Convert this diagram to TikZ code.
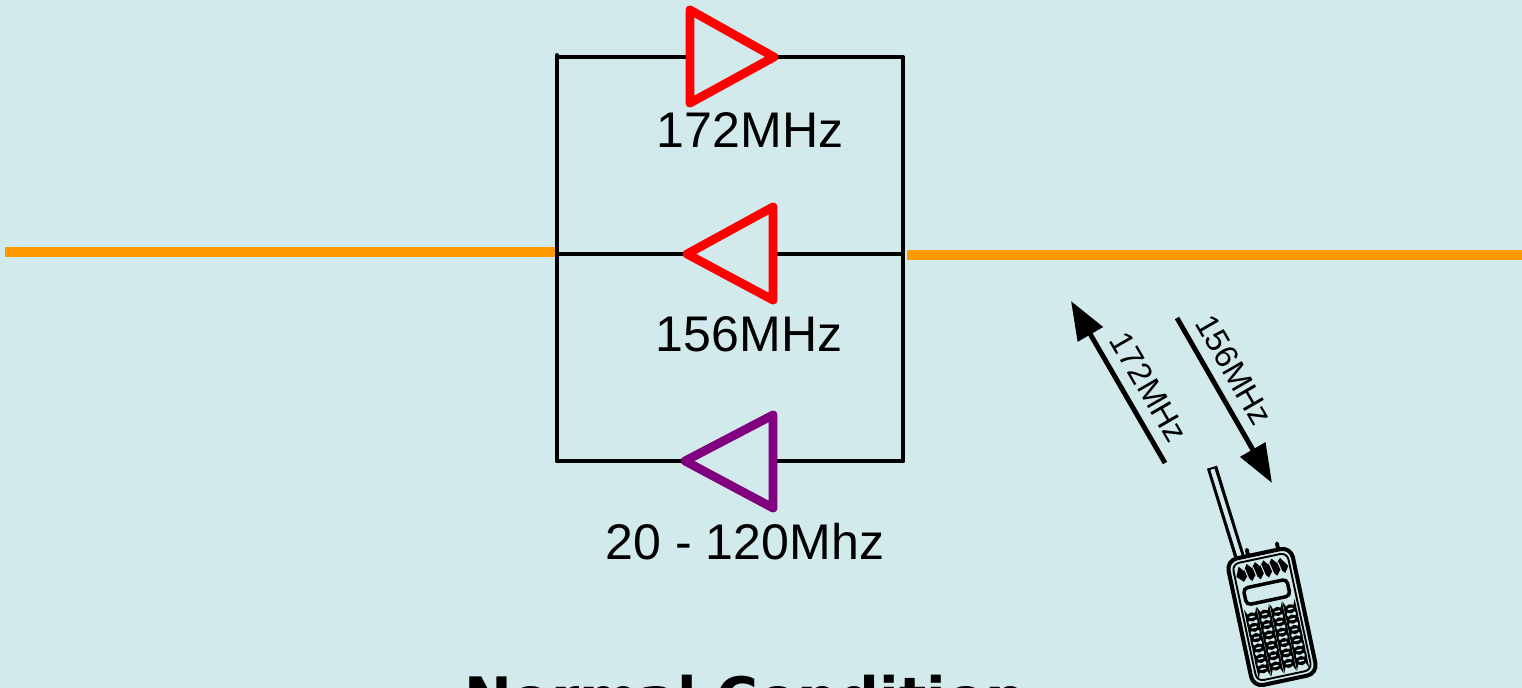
\documentclass[tikz,border=0pt]{standalone}
\usepackage{fontspec}
\setmainfont{Liberation Sans}
\newfontfamily\titlefont{DejaVu Sans}
\usetikzlibrary{arrows.meta}
\definecolor{bg}{RGB}{210,234,236}
\definecolor{wire}{RGB}{255,153,0}
\definecolor{ampr}{RGB}{255,0,0}
\definecolor{ampp}{RGB}{128,0,128}
\begin{document}
\begin{tikzpicture}[x=0.02cm,y=-0.02cm,
  wireline/.style={line width=5.7pt, draw=wire},
  blk/.style={line width=2.3pt, line cap=round, line join=round},
  ampred/.style={draw=ampr, line width=5pt, line join=round, line cap=round},
  amppur/.style={draw=ampp, line width=5pt, line join=round, line cap=round},
  freq/.style={font=\fontsize{28.5}{30}\selectfont, anchor=base, inner sep=0pt},
  rlabel/.style={font=\fontsize{18.5}{20}\selectfont, rotate=-60, inner sep=0pt},
  sig/.style={line width=2.8pt, -{Triangle[length=22pt,width=16pt]}},
  keybox/.style={line width=1.7pt, rounded corners=2.5pt, fill=black, draw=black}]
\fill[bg] (0,0) rectangle (1522,688);
\useasboundingbox (0,0) rectangle (1522,688);

% orange line
\coordinate (wl1) at (5,252);
\coordinate (wl2) at (557,252);
\coordinate (wr1) at (907,255);
\coordinate (wr2) at (1522,255);
\draw[wireline] (wl1) -- (wl2);
\draw[wireline] (wr1) -- (wr2);

% frame
\coordinate (tl) at (557,55);
\coordinate (tr) at (903,57);
\coordinate (bl) at (557,461);
\coordinate (br) at (903,461);
\coordinate (ml) at (557,254);
\coordinate (mr) at (903,254);

% top amplifier (172 MHz, pointing right)
\coordinate (a1in) at (690,57);
\coordinate (a1out) at (774,57);
\coordinate (a1t) at (690,10);
\coordinate (a1b) at (690,103);
% middle amplifier (156 MHz, pointing left)
\coordinate (a2out) at (687,254);
\coordinate (a2in) at (773,254);
\coordinate (a2t) at (773,207);
\coordinate (a2b) at (773,300);
% bottom amplifier (20-120 MHz, pointing left)
\coordinate (a3out) at (685,461);
\coordinate (a3in) at (773,461);
\coordinate (a3t) at (773,415);
\coordinate (a3b) at (773,508);

\draw[blk] (bl) -- (tl) -- (557,57) -- (a1in);
\draw[blk] (a1out) -- (tr) -- (br);
\draw[blk] (ml) -- (a2out);
\draw[blk] (a2in) -- (mr);
\draw[blk] (bl) -- (a3out);
\draw[blk] (a3in) -- (br);

\draw[ampred] (a1t) -- (a1out) -- (a1b) -- cycle;
\draw[ampred] (a2t) -- (a2out) -- (a2b) -- cycle;
\draw[amppur] (a3t) -- (a3out) -- (a3b) -- cycle;

\node[freq] (l1) at (750,148) {172MHz};
\node[freq] (l2) at (749,352) {156MHz};
\node[freq] (l3) at (745,560) {20 - 120Mhz};

% signal arrows
\coordinate (u1) at (1165,463);
\coordinate (u2) at (1071,301);
\coordinate (d1) at (1177,318);
\coordinate (d2) at (1272,483);
\draw[sig] (u1) -- (u2);
\draw[sig] (d1) -- (d2);
\node[rlabel] (r1) at (1149,387) {172MHz};
\node[rlabel] (r2) at (1234,370) {156MHz};

% handheld radio
\begin{scope}[shift={(1272,617)}, rotate=12, scale=1.06]
  \draw[line width=6pt] (-18,-60) -- (-26,-150);
  \draw[bg, line width=2.4pt] (-18,-62) -- (-26,-148);
  \draw[line width=2.2pt, line cap=round] (-10,-60) -- (-10,-67);
  \draw[line width=2.2pt, line cap=round] (19,-60) -- (19,-67);
  \draw[line width=2.3pt, rounded corners=6pt, fill=bg] (-31,-61) rectangle (31,61);
  \draw[line width=1.1pt, rounded corners=4pt] (-26.5,-56.5) rectangle (26.5,56.5);
  \fill (-25,-44) -- (-21,-53) -- (-17,-48) -- (-13,-54) -- (-9,-49) -- (-5,-54) -- (-1,-49) -- (3,-54) -- (7,-49) -- (11,-54) -- (15,-49) -- (19,-53) -- (25,-44) -- (21,-38) -- (17,-42) -- (13,-37) -- (9,-42) -- (5,-37) -- (1,-42) -- (-3,-37) -- (-7,-42) -- (-11,-37) -- (-15,-42) -- (-19,-38) -- cycle;
  \foreach \gx in {-16,-8,0,8,16}
    \draw[bg, line width=0.6pt] (\gx,-50) -- (\gx+2,-40);
  \draw[line width=2pt, rounded corners=2.5pt] (-21,-32) rectangle (21,-16);
  \foreach \c in {-18.5,-6.2,6.2,18.5}
    \foreach \r in {-4,6,16,26,36,46} {
      \draw[keybox] (\c-4.5,\r-2.8) rectangle (\c+4.5,\r+2.8);
      \draw[bg, line width=0.9pt, line cap=round] (\c-2,\r) -- (\c+2,\r);
    }
\end{scope}

\node[font=\titlefont\bfseries\fontsize{32.5}{36}\selectfont, anchor=base, inner sep=0pt] (title) at (745,719) {Normal Condition};
\end{tikzpicture}
\end{document}
